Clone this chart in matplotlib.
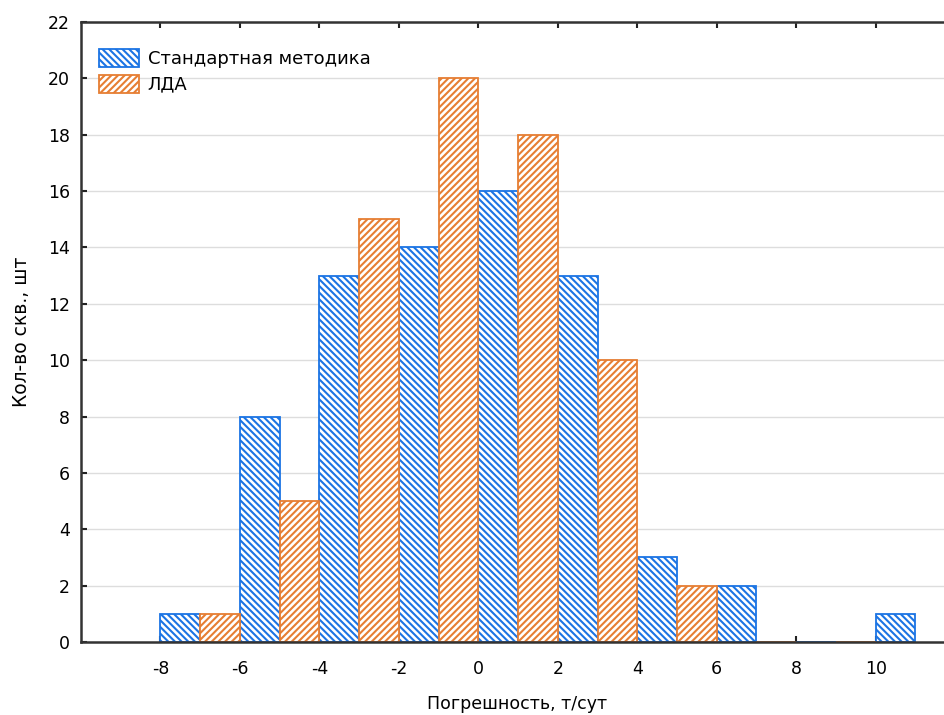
import numpy as np
import matplotlib.pyplot as plt

plt.rcParams['font.family'] = ['DejaVu Sans']
plt.rcParams['axes.unicode_minus'] = False
plt.rcParams['hatch.linewidth'] = 1.5

# левые края интервалов и количества
std_left = [-8, -6, -4, -2, 0, 2, 4, 6, 8, 10]
std_count = [1, 8, 13, 14, 16, 13, 3, 2, 0, 1]
lda_left = [-7, -5, -3, -1, 1, 3, 5, 7, 9]
lda_count = [1, 5, 15, 20, 18, 10, 2, 0, 0]

x_ticks = [-8, -6, -4, -2, 0, 2, 4, 6, 8, 10]
y_ticks = list(range(0, 23, 2))

blue = '#1b74e4'
orange = '#e67e33'

fig = plt.figure(figsize=(9.44, 7.15), dpi=100)
ax = fig.add_axes([81/944, (715-642)/715, 1 - 81/944 + 0.01, (642-22)/715])

ax.bar(std_left, std_count, width=1, align='edge', color='white',
       edgecolor=blue, hatch='\\' * 5, linewidth=1.3, label='Стандартная методика', zorder=3)
ax.bar(lda_left, lda_count, width=1, align='edge', color='white',
       edgecolor=orange, hatch='/' * 5, linewidth=1.3, label='ЛДА', zorder=3)

ax.set_xlim(-10, 11.72 + 0.01 * 944 / 39.78)
ax.set_ylim(0, 22)
ax.set_xticks(x_ticks)
ax.set_yticks(y_ticks)
ax.yaxis.grid(True, color='#dddddd', linewidth=1, zorder=0)

ax.tick_params(direction='in', length=4, width=1.5, labelsize=12.5, top=True, color='#222222')
ax.tick_params(axis='x', pad=13)
ax.tick_params(axis='y', pad=8)
for s in ['left', 'bottom', 'top']:
    ax.spines[s].set_linewidth(1.8)
    ax.spines[s].set_color('#333333')
    ax.spines[s].set_zorder(5)
ax.spines['right'].set_visible(False)

ax.set_xlabel('Погрешность, т/сут', fontsize=12.5, labelpad=12)
ax.set_ylabel('Кол-во скв., шт', fontsize=13.5, labelpad=12)

ax.legend(loc='upper left', bbox_to_anchor=(0.0, 0.985), frameon=False, fontsize=13,
          handlelength=2.2, handleheight=1.15, labelspacing=0.35, borderaxespad=0.7,
          borderpad=0.3, handletextpad=0.5)

fig.savefig('out.png', dpi=100)
